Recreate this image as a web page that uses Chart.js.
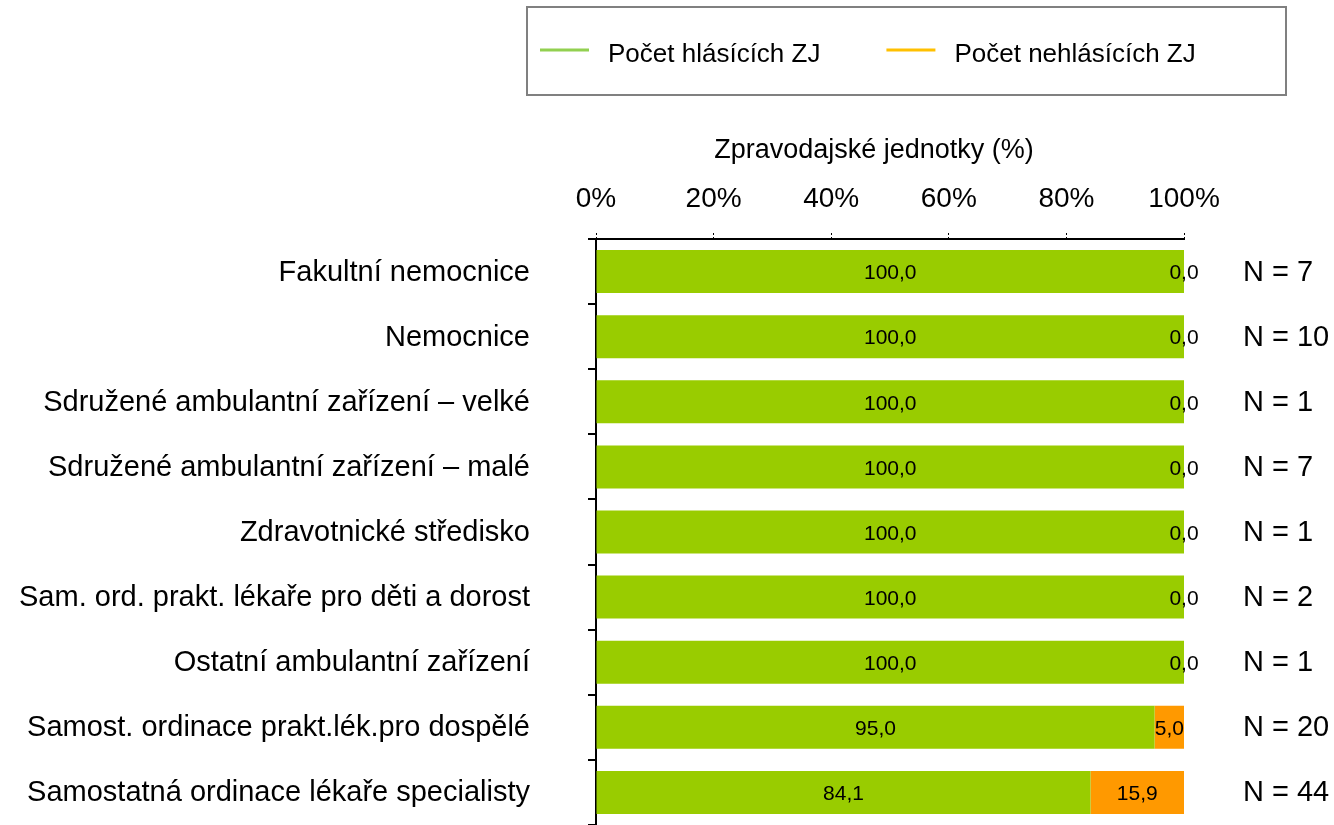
<!DOCTYPE html>
<html>
<head>
<meta charset="utf-8">
<script src="https://cdn.jsdelivr.net/npm/chart.js@4/dist/chart.umd.min.js"></script>
<style>
  html, body { margin: 0; padding: 0; background: #fff; overflow: hidden; }
  canvas { display: block; }
</style>
</head>
<body>
<canvas id="chart" width="1334" height="825"></canvas>
<script>
const categories = [
    "Fakultní nemocnice",
    "Nemocnice",
    "Sdružené ambulantní zařízení – velké",
    "Sdružené ambulantní zařízení – malé",
    "Zdravotnické středisko",
    "Sam. ord. prakt. lékaře pro děti a dorost",
    "Ostatní ambulantní zařízení",
    "Samost. ordinace prakt.lék.pro dospělé",
    "Samostatná ordinace lékaře specialisty"
];
const reporting = [100, 100, 100, 100, 100, 100, 100, 95.0, 84.1];
const notReporting = [0, 0, 0, 0, 0, 0, 0, 5.0, 15.9];
const unitCounts = [7, 10, 1, 7, 1, 2, 1, 20, 44];
const seriesNames = ["Počet hlásících ZJ", "Počet nehlásících ZJ"];
const barColors = ["#99cc00", "#ff9900"];
const legendColors = ["#92d050", "#ffc000"];
const axisTitle = "Zpravodajské jednotky (%)";

const FONT = '"Liberation Sans", Arial, sans-serif';

const formatValue = (v) => v.toFixed(1).replace(".", ",");

// values inside the bar segments + N counts on the right
const labelsPlugin = {
    id: "labels",
    afterDatasetsDraw(chart) {
        const ctx = chart.ctx;
        ctx.save();
        ctx.fillStyle = "#000";
        ctx.textAlign = "center";
        ctx.textBaseline = "middle";
        ctx.font = `21px ${FONT}`;
        chart.data.datasets.forEach((ds, di) => {
            const meta = chart.getDatasetMeta(di);
            meta.data.forEach((bar, i) => {
                const cx = (bar.x + bar.base) / 2;
                ctx.fillText(formatValue(ds.data[i]), cx, bar.y + 2);
            });
        });
        const yScale = chart.scales.y;
        ctx.textAlign = "left";
        ctx.font = `29px ${FONT}`;
        unitCounts.forEach((n, i) => {
            ctx.fillText(`N = ${n}`, chart.chartArea.right + 59, yScale.getPixelForValue(i) + 1);
        });
        ctx.restore();
    }
};

// framed legend with line samples, and the axis title
const legendPlugin = {
    id: "boxLegend",
    afterDraw(chart) {
        const ctx = chart.ctx;
        const box = { x: 527, y: 7, w: 759, h: 88 };
        ctx.save();
        ctx.strokeStyle = "#808080";
        ctx.lineWidth = 2;
        ctx.strokeRect(box.x, box.y, box.w, box.h);

        ctx.font = `26px ${FONT}`;
        ctx.textBaseline = "alphabetic";
        ctx.textAlign = "left";
        let x = box.x + 13;
        const lineY = box.y + 43;
        seriesNames.forEach((name, i) => {
            ctx.strokeStyle = legendColors[i];
            ctx.lineWidth = 3;
            ctx.beginPath();
            ctx.moveTo(x, lineY);
            ctx.lineTo(x + 49, lineY);
            ctx.stroke();
            x += 68;
            ctx.fillStyle = "#000";
            ctx.fillText(name, x, box.y + 55);
            x += ctx.measureText(name).width + 66;
        });

        const area = chart.chartArea;
        ctx.font = `27px ${FONT}`;
        ctx.textAlign = "center";
        ctx.fillText(axisTitle, (area.left + area.right) / 2 - 16, 158);
        ctx.restore();
    }
};

new Chart(document.getElementById("chart"), {
    type: "bar",
    data: {
        labels: categories,
        datasets: [
            {
                label: seriesNames[0],
                data: reporting,
                backgroundColor: barColors[0],
                borderWidth: 0,
                barPercentage: 0.66,
                categoryPercentage: 1.0
            },
            {
                label: seriesNames[1],
                data: notReporting,
                backgroundColor: barColors[1],
                borderWidth: 0,
                barPercentage: 0.66,
                categoryPercentage: 1.0
            }
        ]
    },
    options: {
        indexAxis: "y",
        responsive: false,
        animation: false,
        devicePixelRatio: 1,
        layout: {
            padding: { top: 0, left: 17, right: 150, bottom: 0 }
        },
        plugins: {
            legend: { display: false },
            tooltip: { enabled: false }
        },
        scales: {
            x: {
                position: "top",
                stacked: true,
                min: 0,
                max: 100,
                afterFit: (scale) => { scale.height = 239; },
                ticks: {
                    stepSize: 20,
                    color: "#000",
                    padding: 17,
                    font: { family: FONT, size: 28 },
                    callback: (v) => `${v}%`
                },
                grid: {
                    drawOnChartArea: false,
                    tickLength: 6,
                    color: "#000",
                    tickBorderDash: [2, 2]
                },
                border: { display: true, color: "#000", width: 2 }
            },
            y: {
                stacked: true,
                afterFit: (scale) => {
                    scale.width = 579;
                    scale.paddingTop = 0;
                    scale.paddingBottom = 0;
                },
                ticks: {
                    color: "#000",
                    padding: 58,
                    labelOffset: 1,
                    font: { family: FONT, size: 29 }
                },
                grid: {
                    drawOnChartArea: false,
                    offset: true,
                    tickLength: 8,
                    color: "#000",
                    lineWidth: 2
                },
                border: { display: true, color: "#000", width: 2 }
            }
        }
    },
    plugins: [labelsPlugin, legendPlugin]
});
</script>
</body>
</html>
